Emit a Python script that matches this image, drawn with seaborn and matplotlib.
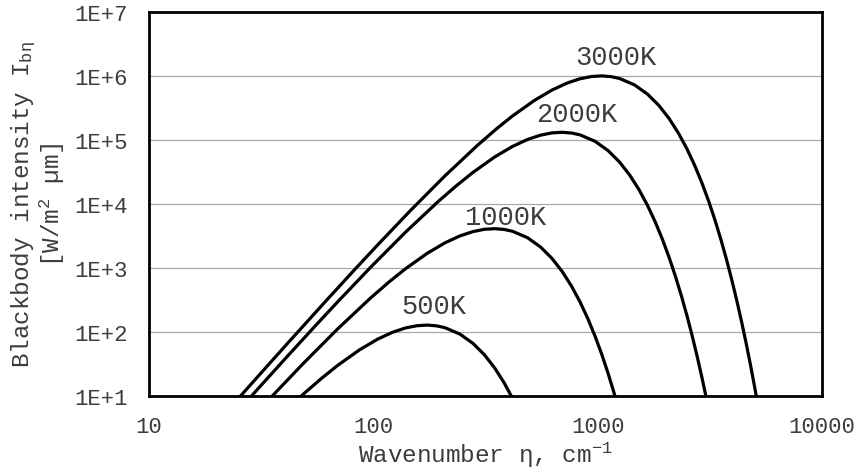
import numpy as np
import pandas as pd
import matplotlib
matplotlib.use("Agg")
import matplotlib.pyplot as plt
import seaborn as sns
from matplotlib.ticker import FixedLocator, FuncFormatter, LogLocator, NullFormatter

# ---- data (wavenumber, intensity) ----
eta_3000 = [20.85, 31.28, 41.7, 62.55, 83.4, 104.25, 145.95, 208.5, 291.9, 354.45, 417, 521.25,
            625.5, 729.75, 834, 938.25, 1042.5, 1146.75, 1251, 1459.5, 1668, 1876.5, 2085,
            2293.5, 2502, 2710.5, 2919, 3127.5, 3336, 3544.5, 3753, 3961.5, 4170, 4378.5,
            4587, 4795.5, 5004, 5212.5]
I_3000 = [4.463, 22.03, 67.84, 326.0, 977.3, 2261, 7782, 27317, 82630, 148965, 235093, 409903,
          597620, 767624, 896750, 973024, 995038, 969364, 906983, 720029, 516130, 342084, 213107,
          126259, 71763, 39392, 20992, 10904, 5538.7, 2759.1, 1350.8, 651.2, 309.59, 145.36,
          67.48, 31.00, 14.11, 6.366]

eta_2000 = [27.8, 41.7, 55.6, 69.5, 97.3, 139, 194.6, 236.3, 278, 347.5, 417, 486.5, 556, 625.5,
            695, 764.5, 834, 973, 1112, 1251, 1390, 1529, 1668, 1807, 1946, 2085, 2224, 2363,
            2502, 2641, 2780, 2919, 3058]
I_2000 = [8.933, 42.93, 128.7, 297.7, 1024.8, 3597, 10881, 19616, 30958, 53978, 78697, 101084,
          118088, 128132, 131031, 127650, 119436, 94817, 67966, 45047, 28063, 16626, 9450,
          5187.3, 2764.3, 1435.8, 729.4, 363.3, 177.88, 85.75, 40.77, 19.14, 8.886]

eta_1000 = [34.75, 48.65, 69.5, 97.3, 118.15, 139, 173.75, 208.5, 243.25, 278, 312.75, 347.5,
            382.25, 417, 486.5, 556, 625.5, 695, 764.5, 834, 903.5, 973, 1042.5, 1112,
            1181.5, 1251]
I_1000 = [9.307, 32.03, 112.44, 340.1, 613.2, 967.7, 1687.2, 2459.8, 3159.6, 3691.1, 4005.0,
          4095.6, 3990.0, 3733.2, 2963.7, 2124.4, 1408.0, 877.2, 519.7, 295.4, 162.14, 86.40,
          44.88, 22.80, 11.357, 5.560]

eta_500 = [45.175, 48.65, 59.075, 69.5, 86.875, 104.25, 121.625, 139, 156.375, 173.75, 191.125,
           208.5, 243.25, 278, 312.75, 347.5, 382.25, 417]
I_500 = [8.396, 10.626, 19.156, 30.23, 52.71, 76.85, 98.71, 115.32, 125.13, 127.96, 124.66,
         116.63, 92.59, 66.37, 43.99, 27.40, 16.236, 9.228]

curve_labels = ["3000K", "2000K", "1000K", "500K"]
label_eta = [1205, 807, 390, 187]
label_I = [1.96e6, 2.51e5, 6.14e3, 2.55e2]

x_ticks = [10, 100, 1000, 10000]
y_ticks = [1e1, 1e2, 1e3, 1e4, 1e5, 1e6, 1e7]

frames = []
for name, e, v in [("3000K", eta_3000, I_3000), ("2000K", eta_2000, I_2000),
                   ("1000K", eta_1000, I_1000), ("500K", eta_500, I_500)]:
    frames.append(pd.DataFrame({"eta": e, "I": v, "T": name}))
df = pd.concat(frames, ignore_index=True)

sns.set_style("white")
plt.rcParams["font.family"] = ["Liberation Mono", "DejaVu Sans"]
plt.rcParams["mathtext.fontset"] = "custom"
plt.rcParams["mathtext.rm"] = "Liberation Mono"
plt.rcParams["mathtext.it"] = "Liberation Mono"
plt.rcParams["mathtext.bf"] = "Liberation Mono"

TXT = "#3c3c3c"

fig = plt.figure(figsize=(8.62, 4.77), dpi=100)
ax = fig.add_axes([149 / 862, 1 - 397 / 477, (822 - 149) / 862, (397 - 12.7) / 477])
ax.set_xscale("log")
ax.set_yscale("log")

sns.lineplot(data=df, x="eta", y="I", hue="T", palette=["black"] * 4, legend=False,
             sort=False, estimator=None, lw=2.3, ax=ax, zorder=3)

ax.set_xlim(10, 10000)
ax.set_ylim(10, 1e7)

# grid
for yv in y_ticks[1:-1]:
    ax.axhline(yv, color="#a8a8a8", lw=0.9, zorder=1)

for sp in ax.spines.values():
    sp.set_visible(True)
    sp.set_color("black")
    sp.set_linewidth(2.0)

ax.xaxis.set_major_locator(FixedLocator(x_ticks))
ax.yaxis.set_major_locator(FixedLocator(y_ticks))
ax.xaxis.set_minor_locator(LogLocator(base=10, subs=np.arange(2, 10)))
ax.yaxis.set_minor_locator(LogLocator(base=10, subs=np.arange(2, 10)))
ax.xaxis.set_minor_formatter(NullFormatter())
ax.yaxis.set_minor_formatter(NullFormatter())
ax.xaxis.set_major_formatter(FuncFormatter(lambda v, p: f"{int(round(v))}"))
ax.yaxis.set_major_formatter(FuncFormatter(lambda v, p: f"1E+{int(round(np.log10(v)))}"))

ax.tick_params(axis="both", which="major", direction="inout", length=11, width=1.6,
               color="black", labelsize=16, labelcolor=TXT)
ax.tick_params(axis="both", which="minor", direction="in", length=5, width=1.2, color="black")
ax.tick_params(axis="x", which="major", pad=9)
ax.tick_params(axis="y", which="major", pad=10)
ax.tick_params(top=False, right=False, which="both")

for name, xe, yi in zip(curve_labels, label_eta, label_I):
    ax.text(xe, yi, name, ha="center", va="center", fontsize=19.5, color=TXT, zorder=4)

ax.set_xlabel("Wavenumber η, cm$^{\\mathrm{-1}}$", fontsize=17.5, color=TXT, labelpad=2)
ax.set_ylabel("Blackbody intensity I$_{\\mathrm{bη}}$\n[W/m$^{\\mathrm{2}}$ µm]",
              fontsize=17.5, color=TXT, labelpad=5, linespacing=1.0)

fig.savefig("out.png", dpi=100, facecolor="white")
